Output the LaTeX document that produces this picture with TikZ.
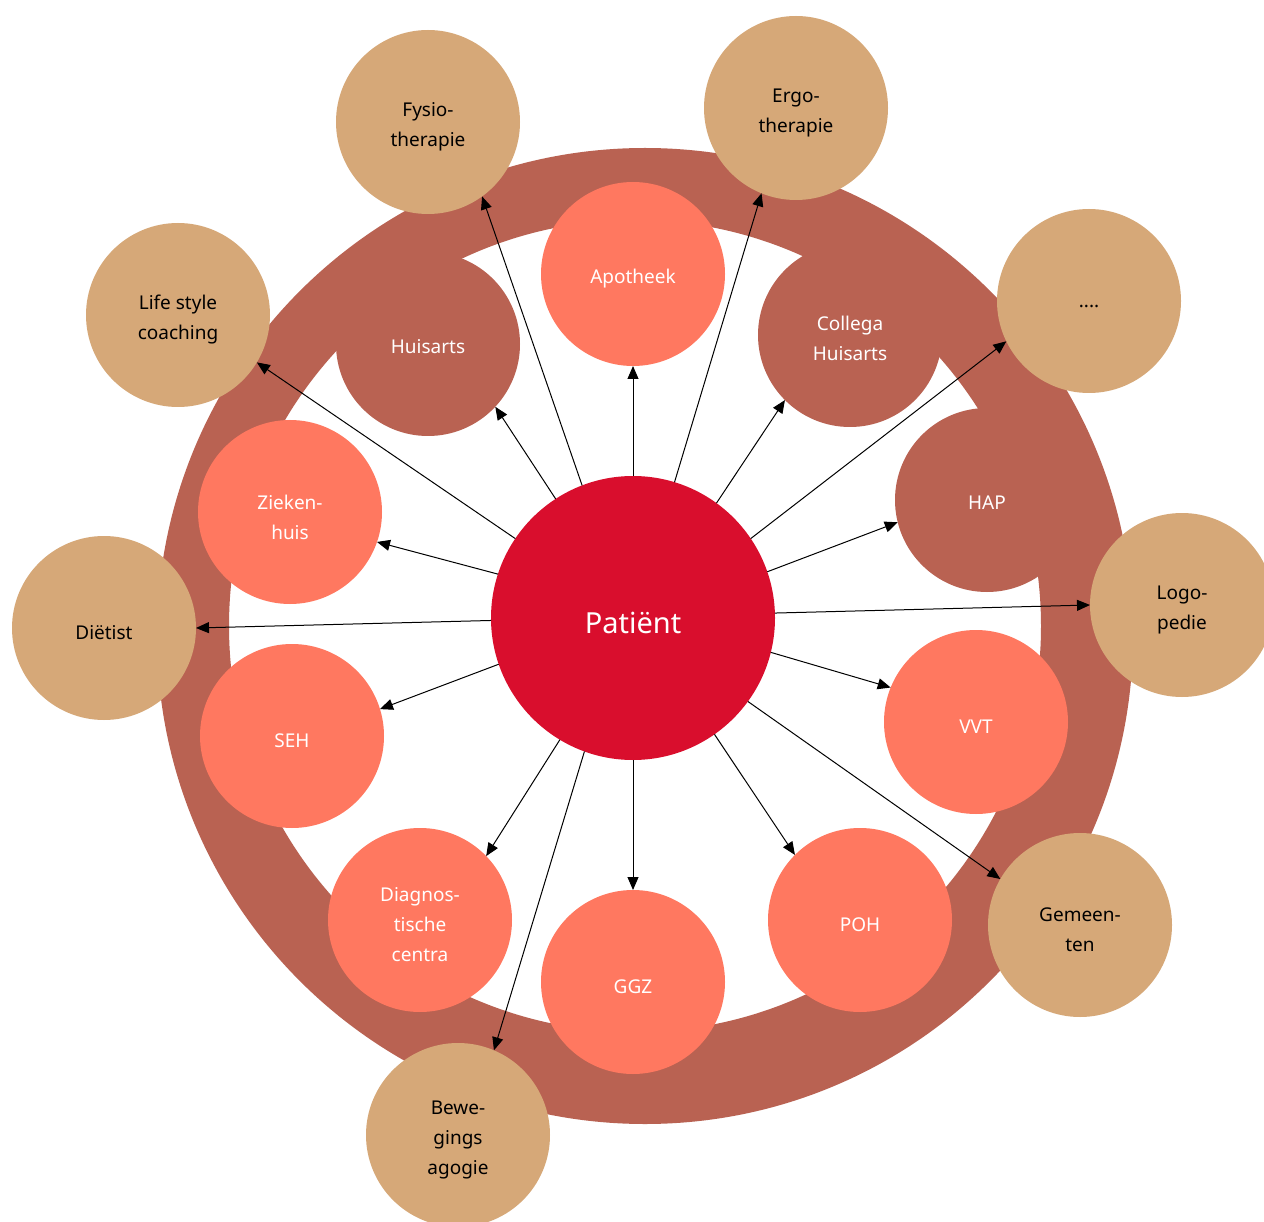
\documentclass[tikz,border=0pt]{standalone}
\usepackage{fontspec}
\setmainfont{Noto Sans}
\usetikzlibrary{arrows.meta}
\definecolor{ringc}{HTML}{B96252}
\definecolor{salmon}{HTML}{FF7860}
\definecolor{tanc}{HTML}{D6A878}
\definecolor{patc}{HTML}{D90E2D}
\begin{document}
\begin{tikzpicture}[x=1pt,y=-1pt,
  bub/.style={circle,inner sep=0pt,outer sep=0pt,minimum size=184pt},
  tl/.style={align=center,font=\fontsize{19}{30}\selectfont,inner sep=0pt},
  dark/.style={bub,fill=ringc,label={[tl,text=white,yshift=-3pt]center:#1}},
  sal/.style={bub,fill=salmon,label={[tl,text=white,yshift=-5pt]center:#1}},
  tan/.style={bub,fill=tanc,label={[tl,text=black,yshift=-5pt]center:#1}},
  arr/.style={line width=1pt,-{Triangle[length=13pt,width=11pt]}}]
\useasboundingbox (0,0) rectangle (1264,1222);
\fill[white] (0,0) rectangle (1264,1222);
\begin{scope}
\clip (0,0) rectangle (1264,1222);
\fill[ringc,even odd rule] (645,636) circle[radius=488] (635,626) circle[radius=406];
\node[dark={Huisarts}] (huis) at (428,344) {};
\node[dark={Collega\\Huisarts}] (coll) at (850,335) {};
\node[dark={HAP}] (hap) at (987,500) {};
\node[sal={Apotheek}] (apo) at (633,274) {};
\node[sal={Zieken-\\huis}] (zkh) at (290,512) {};
\node[sal={SEH}] (seh) at (292,736) {};
\node[sal={VVT}] (vvt) at (976,722) {};
\node[sal={Diagnos-\\tische\\centra}] (diag) at (420,920) {};
\node[sal={GGZ}] (ggz) at (633,982) {};
\node[sal={POH}] (poh) at (860,920) {};
\node[tan={Fysio-\\therapie}] (fys) at (428,122) {};
\node[tan={Ergo-\\therapie}] (ergo) at (796,108) {};
\node[tan={....}] (dots) at (1089,301) {};
\node[tan={Life style\\coaching}] (life) at (178,315) {};
\node[tan={Diëtist}] (diet) at (104,628) {};
\node[tan={Logo-\\pedie}] (logo) at (1182,605) {};
\node[tan={Gemeen-\\ten}] (gem) at (1080,925) {};
\node[tan={Bewe-\\gings\\agogie}] (bew) at (458,1135) {};
\node[circle,inner sep=0pt,outer sep=0pt,minimum size=284pt,fill=patc,
  label={[text=white,font=\fontsize{29}{34}\selectfont,yshift=-5pt]center:Patiënt}] (pat) at (633,618) {};
\draw[arr] (pat.90) -- (apo.270);
\draw[arr] (pat.111.3) -- (fys.-54.8);
\draw[arr] (pat.73.9) -- (ergo.248.2);
\draw[arr] (pat.123.5) -- (huis.-43.7);
\draw[arr] (pat.54) -- (coll.225.4);
\draw[arr] (pat.34.6) -- (dots.206.6);
\draw[arr] (pat.146.5) -- (life.-31);
\draw[arr] (pat.162.8) -- (zkh.-19);
\draw[arr] (pat.19.8) -- (hap.194.2);
\draw[arr] (pat.181.2) -- (diet.0);
\draw[arr] (pat.2) -- (logo.180);
\draw[arr] (pat.199.3) -- (seh.17.1);
\draw[arr] (pat.-14.6) -- (vvt.158.2);
\draw[arr] (pat.239.5) -- (diag.44.6);
\draw[arr] (pat.270) -- (ggz.90);
\draw[arr] (pat.-55.6) -- (poh.135);
\draw[arr] (pat.250.7) -- (bew.67.6);
\draw[arr] (pat.-36.4) -- (gem.150.2);
\end{scope}
\end{tikzpicture}
\end{document}
